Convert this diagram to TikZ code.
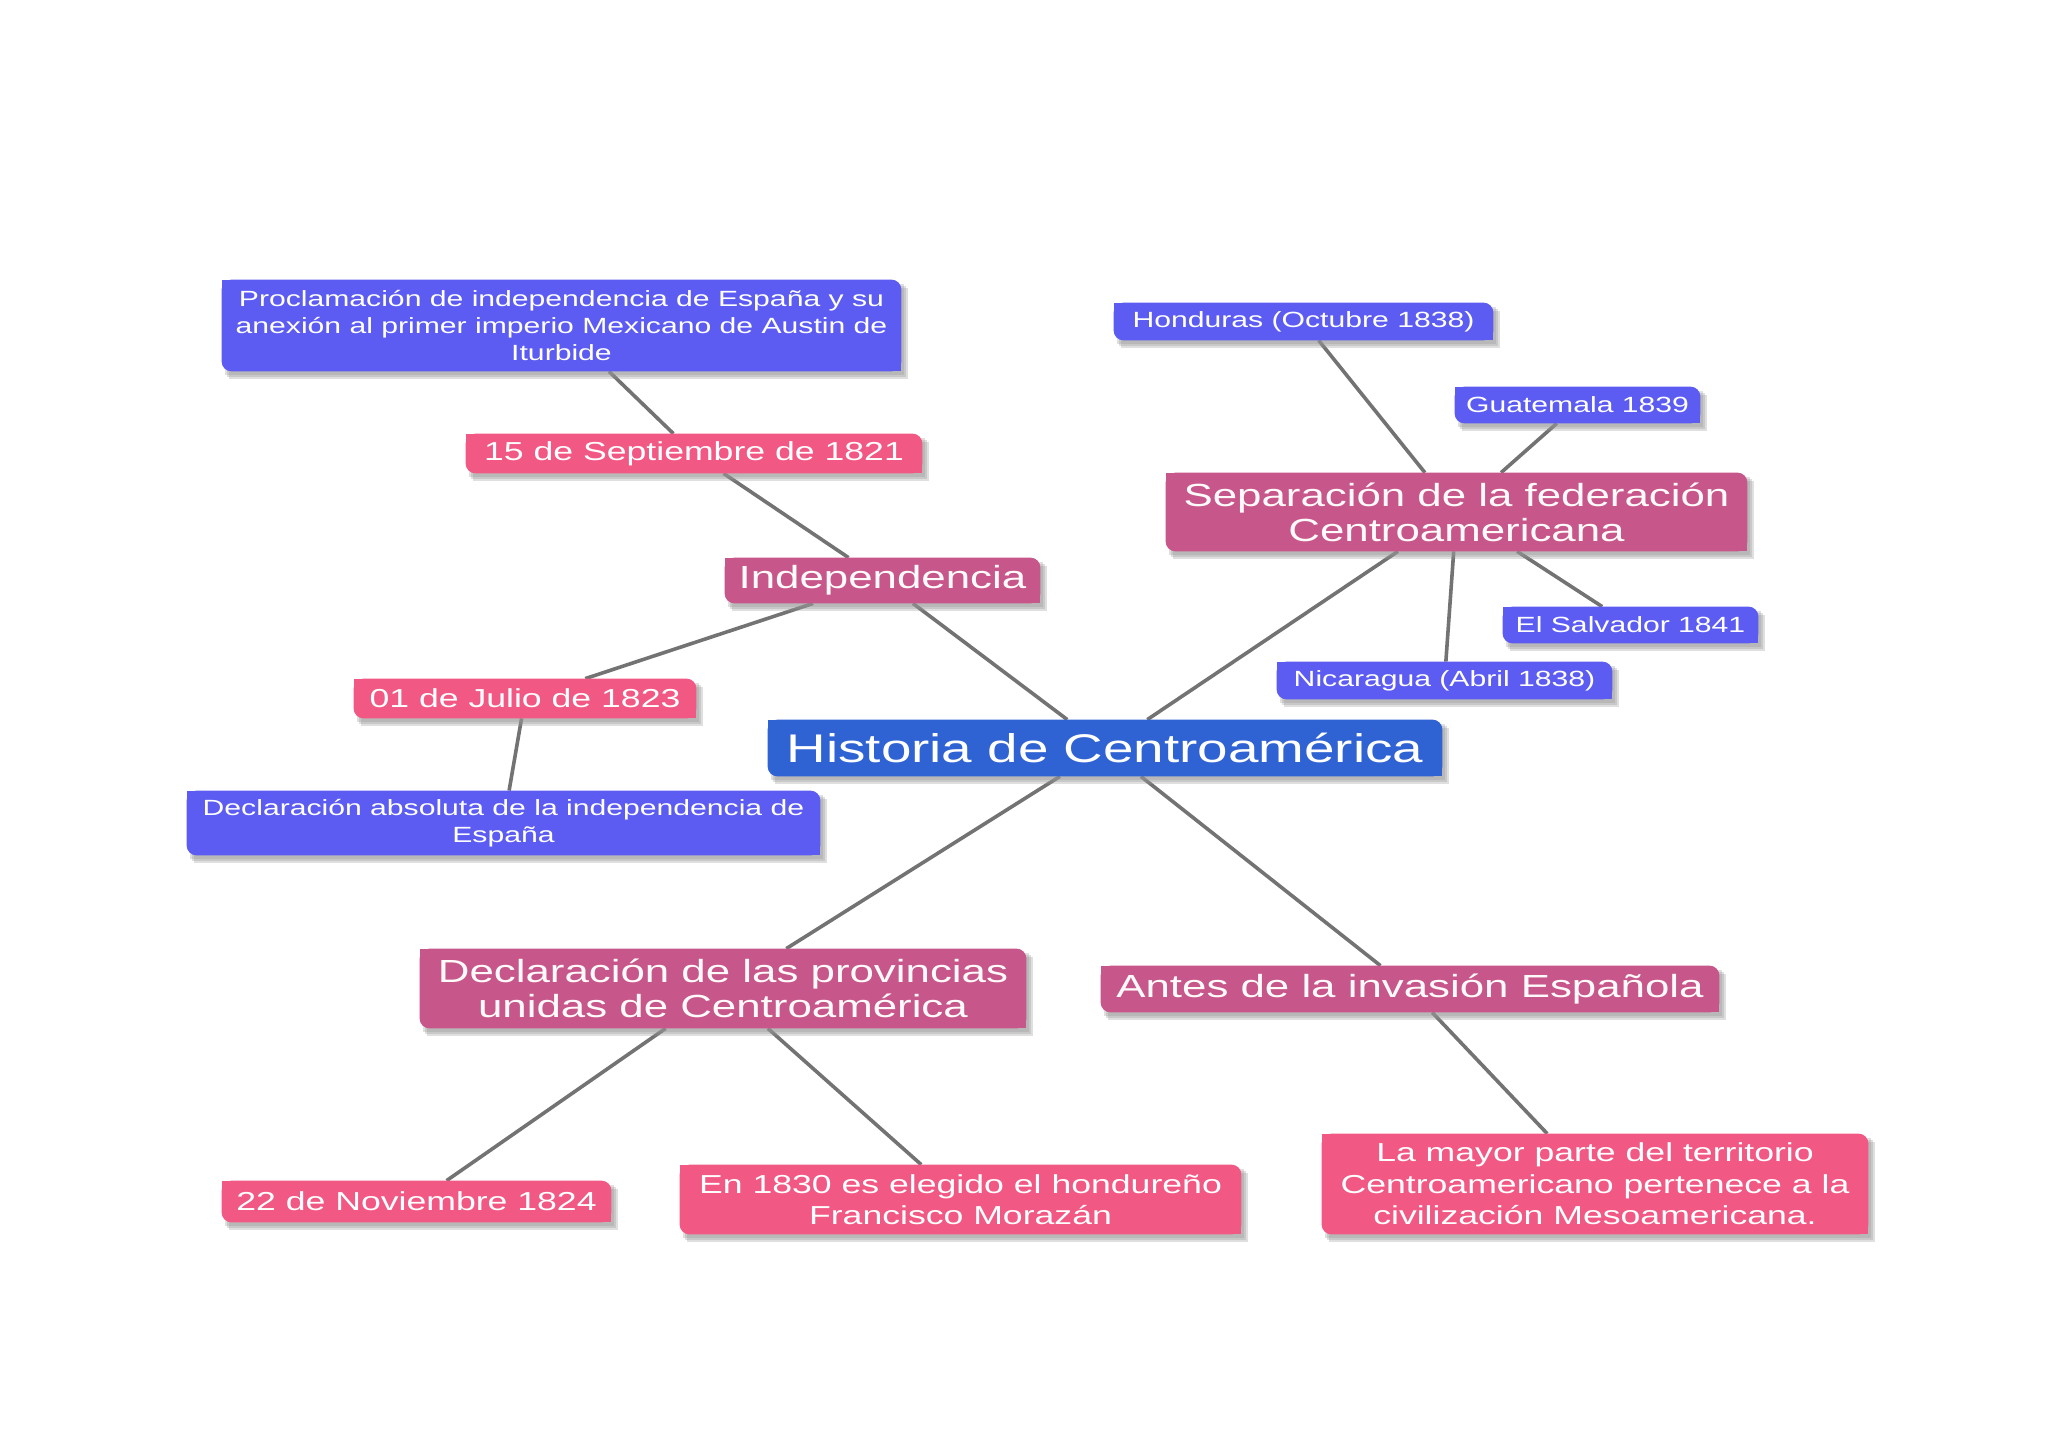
\documentclass[tikz,border=0pt]{standalone}
\usepackage{fontspec}
\newfontfamily\mapfont{Liberation Sans}[FakeStretch=1.37]
\pgfdeclarelayer{bg}
\pgfdeclarelayer{lines}
\pgfdeclarelayer{boxes}
\pgfsetlayers{bg,lines,boxes,main}
\definecolor{vio}{RGB}{92,92,242}
\definecolor{pnk}{RGB}{242,88,132}
\definecolor{mau}{RGB}{199,86,138}
\definecolor{rootc}{RGB}{47,98,210}
\definecolor{linec}{RGB}{115,115,115}
\definecolor{shadowc}{RGB}{150,150,150}
\newcommand\mkbox[2]{%
  \begin{pgfonlayer}{boxes}
    \fill[shadowc, opacity=0.3] ([shift={(3,4)}]#1.south west) rectangle ([shift={(3,4)}]#1.north east);
    \fill[shadowc, opacity=0.3] ([shift={(5,6)}]#1.south west) rectangle ([shift={(5,6)}]#1.north east);
    \fill[shadowc, opacity=0.3] ([shift={(7,8)}]#1.south west) rectangle ([shift={(7,8)}]#1.north east);
    \fill[#2,rounded corners=5pt] (#1.south west) rectangle (#1.north east);
    \fill[#2] (#1.north west) rectangle ([shift={(12,12)}]#1.north west);
    \fill[#2] (#1.south east) rectangle ([shift={(-12,-12)}]#1.south east);
  \end{pgfonlayer}}
\tikzset{
  base/.style={inner sep=0pt, align=center, text=white},
  viotxt/.style={base, font=\mapfont\fontsize{11}{13.7}\selectfont},
  datetxt/.style={base, font=\mapfont\fontsize{13}{15.8}\selectfont},
  cattxt/.style={base, text=white!92!pink, font=\mapfont\fontsize{16}{17.6}\selectfont},
  roottxt/.style={base, font=\mapfont\fontsize{20}{22}\selectfont},
  conn/.style={draw=linec, line width=1.8pt}
}
\begin{document}
\begin{tikzpicture}[x=0.5pt,y=-0.5pt]
\begin{pgfonlayer}{bg}
\fill[white] (0,0) rectangle (2048,1448);
\end{pgfonlayer}
\useasboundingbox (0,0) rectangle (2048,1448);

\node[viotxt, minimum width=339.5pt, minimum height=45.5pt] (proc) at (561.5,325.5)
  {Proclamación de independencia de España y su\\anexión al primer imperio Mexicano de Austin de\\Iturbide};
\node[datetxt, minimum width=228pt, minimum height=19.5pt] (sept) at (694,453.5) {15 de Septiembre de 1821};
\node[cattxt, minimum width=157.5pt, minimum height=22.5pt] (ind) at (882.5,580.5) {Independencia};
\node[datetxt, minimum width=171pt, minimum height=19.5pt] (julio) at (525,698.5) {01 de Julio de 1823};
\node[viotxt, minimum width=316.5pt, minimum height=32pt] (decabs) at (503.5,823)
  {Declaración absoluta de la independencia de\\España};
\node[roottxt, minimum width=337pt, minimum height=28pt] (hist) at (1105,748) {Historia de Centroamérica};
\node[viotxt, minimum width=189.5pt, minimum height=18.5pt] (hond) at (1303.5,321.5) {Honduras (Octubre 1838)};
\node[viotxt, minimum width=122.5pt, minimum height=18pt] (guat) at (1577.5,405) {Guatemala 1839};
\node[cattxt, minimum width=290.5pt, minimum height=39pt] (sep) at (1456.5,512)
  {Separación de la federación\\Centroamericana};
\node[viotxt, minimum width=127.5pt, minimum height=18pt] (salv) at (1630.5,625) {El Salvador 1841};
\node[viotxt, minimum width=167.5pt, minimum height=18.5pt] (nica) at (1444.5,680.5) {Nicaragua (Abril 1838)};
\node[cattxt, minimum width=303pt, minimum height=39.5pt] (prov) at (723,988.5)
  {Declaración de las provincias\\unidas de Centroamérica};
\node[cattxt, minimum width=309pt, minimum height=23pt] (antes) at (1410,989) {Antes de la invasión Española};
\node[datetxt, minimum width=194.5pt, minimum height=20.5pt] (nov) at (416.5,1201.5) {22 de Noviembre 1824};
\node[datetxt, minimum width=280.5pt, minimum height=34.5pt] (e1830) at (960.5,1199.5)
  {En 1830 es elegido el hondureño\\Francisco Morazán};
\node[datetxt, minimum width=273pt, minimum height=50pt] (mayor) at (1595,1184)
  {La mayor parte del territorio\\Centroamericano pertenece a la\\civilización Mesoamericana.};

\mkbox{proc}{vio}
\mkbox{sept}{pnk}
\mkbox{ind}{mau}
\mkbox{julio}{pnk}
\mkbox{decabs}{vio}
\mkbox{hist}{rootc}
\mkbox{hond}{vio}
\mkbox{guat}{vio}
\mkbox{sep}{mau}
\mkbox{salv}{vio}
\mkbox{nica}{vio}
\mkbox{prov}{mau}
\mkbox{antes}{mau}
\mkbox{nov}{pnk}
\mkbox{e1830}{pnk}
\mkbox{mayor}{pnk}

\begin{pgfonlayer}{lines}
\draw[conn] (proc) -- (sept);
\draw[conn] (sept) -- (ind);
\draw[conn] (ind) -- (hist);
\draw[conn] (ind) -- (julio);
\draw[conn] (julio) -- (decabs);
\draw[conn] (hist) -- (sep);
\draw[conn] (sep) -- (hond);
\draw[conn] (sep) -- (guat);
\draw[conn] (sep) -- (nica);
\draw[conn] (sep) -- (salv);
\draw[conn] (hist) -- (prov);
\draw[conn] (hist) -- (antes);
\draw[conn] (prov) -- (nov);
\draw[conn] (prov) -- (e1830);
\draw[conn] (antes) -- (mayor);
\end{pgfonlayer}
\end{tikzpicture}
\end{document}
